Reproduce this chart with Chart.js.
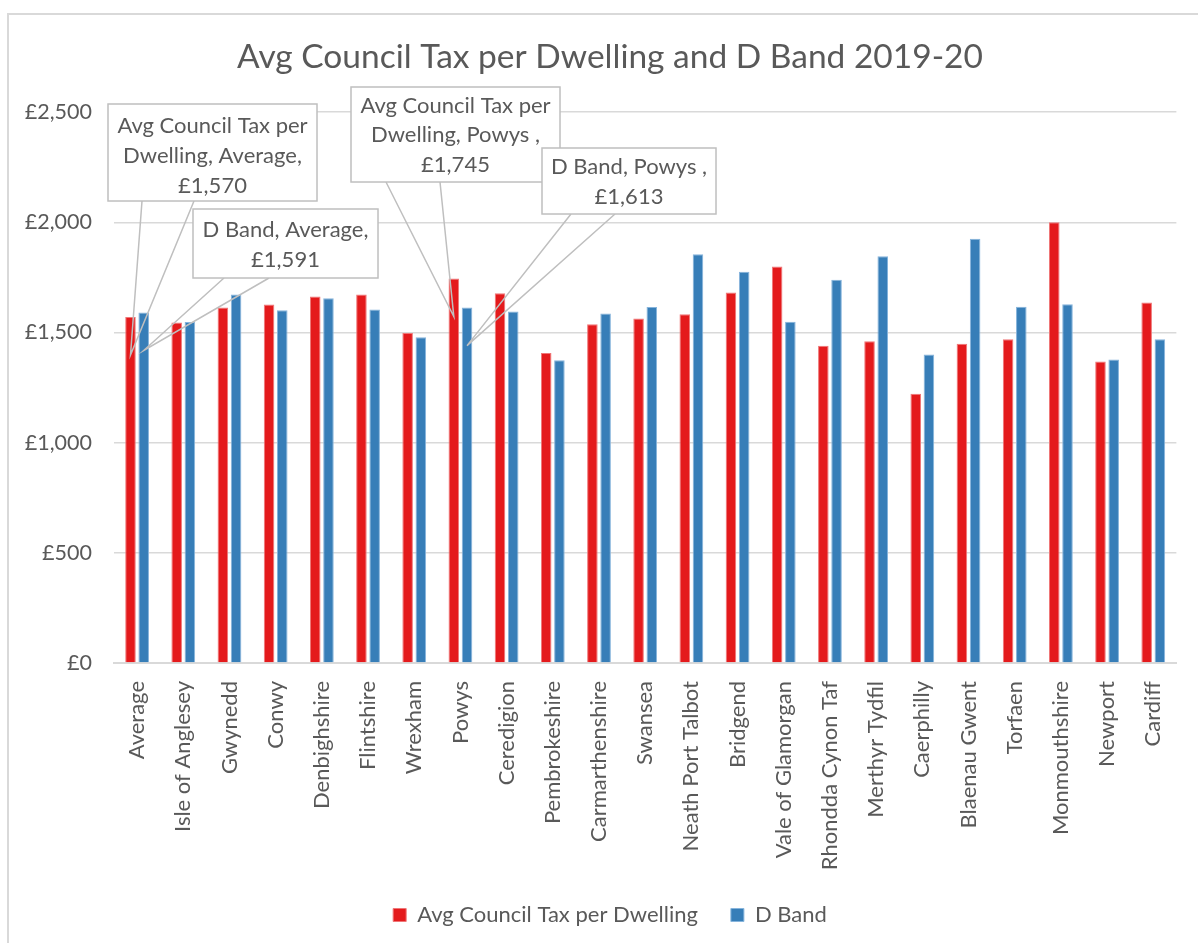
<!DOCTYPE html>
<html lang="en">
<head>
    <meta charset="UTF-8">
    <title>Avg Council Tax per Dwelling and D Band 2019-20</title>
    <script src="https://cdn.jsdelivr.net/npm/chart.js"></script>
    <style>
        html, body {
            margin: 0;
            padding: 0;
            background-color: #fff;
            overflow: hidden;
        }
        .marco {
            position: absolute;
            left: 7px;
            top: 13px;
            width: 1400px;
            height: 1100px;
            border-left: 2px solid #d9d9d9;
            border-top: 2px solid #d9d9d9;
        }
        .contenedor {
            position: absolute;
            left: 0;
            top: 0;
            width: 1198px;
            height: 943px;
        }
    </style>
</head>
<body>
<div class="marco"></div>
<div class="contenedor">
    <canvas id="graficaTax"></canvas>
</div>

<script>
    // Datos
    const councils = ['Average', 'Isle of Anglesey', 'Gwynedd', 'Conwy', 'Denbighshire', 'Flintshire',
        'Wrexham', 'Powys', 'Ceredigion', 'Pembrokeshire', 'Carmarthenshire', 'Swansea',
        'Neath Port Talbot', 'Bridgend', 'Vale of Glamorgan', 'Rhondda Cynon Taf', 'Merthyr Tydfil',
        'Caerphilly', 'Blaenau Gwent', 'Torfaen', 'Monmouthshire', 'Newport', 'Cardiff'];
    const avgTax = [1570, 1546, 1614, 1627, 1664, 1673, 1498, 1745, 1678, 1407, 1537, 1564,
        1583, 1682, 1800, 1440, 1460, 1222, 1449, 1469, 2000, 1368, 1636];
    const dBand = [1591, 1548, 1672, 1601, 1655, 1604, 1478, 1613, 1595, 1374, 1586, 1616,
        1855, 1776, 1549, 1740, 1846, 1400, 1926, 1617, 1628, 1378, 1469];
    const seriesNames = ['Avg Council Tax per Dwelling', 'D Band'];
    const yMax = 2500;
    const yStep = 500;

    const textColor = '#595959';
    const gridColor = '#d9d9d9';
    const fontFamily = 'Lato, "Open Sans", sans-serif';

    const money = v => '£' + v.toLocaleString('en-GB');

    // Etiquetas tipo "callout" (cajas en píxeles, la punta sale de la barra)
    const callouts = [
        { dataset: 0, index: 0, lines: ['Avg Council Tax per', 'Dwelling, Average,'], box: [108, 104, 317, 201], base: [142, 194], textY: [126, 156] },
        { dataset: 1, index: 0, lines: ['D Band, Average,'], box: [193, 209, 378, 278], base: [224, 269], textY: [230] },
        { dataset: 0, index: 7, lines: ['Avg Council Tax per', 'Dwelling, Powys ,'], box: [351, 87, 560, 182], base: [386, 440], textY: [106, 135] },
        { dataset: 1, index: 7, lines: ['D Band, Powys ,'], box: [542, 148, 716, 214], base: [571, 615], textY: [167] }
    ];

    const calloutPlugin = {
        id: 'callouts',
        afterLayout(chart) {
            // dejar que las etiquetas del eje Y se salgan hacia la izquierda sin recortarse
            chart.scales.y.left = 0;
        },
        afterDatasetsDraw(chart) {
            const ctx = chart.ctx;
            const yScale = chart.scales.y;
            ctx.save();
            ctx.font = '22px ' + fontFamily;
            ctx.textAlign = 'center';
            ctx.textBaseline = 'middle';
            callouts.forEach(c => {
                const bar = chart.getDatasetMeta(c.dataset).data[c.index];
                const value = chart.data.datasets[c.dataset].data[c.index];
                const tipX = bar.x;
                const tipY = yScale.getPixelForValue(value) + 38;
                const [x1, y1, x2, y2] = c.box;
                // punta
                ctx.strokeStyle = '#bfbfbf';
                ctx.lineWidth = 1.5;
                ctx.beginPath();
                ctx.moveTo(c.base[0], y2);
                ctx.lineTo(tipX, tipY);
                ctx.lineTo(c.base[1], y2);
                ctx.stroke();
                // caja
                ctx.fillStyle = '#fff';
                ctx.fillRect(x1, y1, x2 - x1, y2 - y1);
                ctx.strokeRect(x1, y1, x2 - x1, y2 - y1);
                // texto
                ctx.fillStyle = textColor;
                const cx = (x1 + x2) / 2;
                c.lines.forEach((t, i) => ctx.fillText(t, cx, c.textY[i]));
                const last = c.textY[c.textY.length - 1] + 29.5;
                ctx.fillText(money(value), cx, last);
            });
            ctx.restore();
        }
    };

    const ctx = document.getElementById('graficaTax').getContext('2d');
    const grafica = new Chart(ctx, {
        type: 'bar',
        data: {
            labels: councils,
            datasets: [{
                label: seriesNames[0],
                data: avgTax,
                backgroundColor: '#e41a1c',
                borderColor: '#ef7677',
                borderWidth: 1
            }, {
                label: seriesNames[1],
                data: dBand,
                backgroundColor: '#377eb8',
                borderColor: '#86b4dc',
                borderWidth: 1
            }]
        },
        options: {
            responsive: true,
            maintainAspectRatio: false,
            animation: false,
            categoryPercentage: 0.572,
            barPercentage: 0.8,
            layout: { padding: { left: 37, right: 15, top: 0, bottom: 7 } },
            plugins: {
                title: {
                    display: true,
                    text: 'Avg Council Tax per Dwelling and D Band 2019-20',
                    color: textColor,
                    font: { family: fontFamily, size: 33.5, weight: 'normal' },
                    padding: { top: 37, bottom: 35 }
                },
                legend: {
                    position: 'bottom',
                    labels: {
                        color: textColor,
                        font: { family: fontFamily, size: 22 },
                        boxWidth: 13,
                        boxHeight: 13,
                        padding: 33
                    }
                },
                tooltip: { enabled: false }
            },
            scales: {
                x: {
                    grid: { display: false, drawTicks: false },
                    border: { color: gridColor, width: 2 },
                    ticks: {
                        color: textColor,
                        font: { family: fontFamily, size: 22 },
                        maxRotation: 90,
                        minRotation: 90,
                        autoSkip: false,
                        padding: 18
                    },
                    afterFit: scale => { scale.height = 208; }
                },
                y: {
                    min: 0,
                    max: yMax,
                    grid: { color: gridColor, lineWidth: 1.5, drawTicks: false },
                    border: { display: false },
                    ticks: {
                        stepSize: yStep,
                        color: textColor,
                        font: { family: fontFamily, size: 21.5 },
                        padding: 22,
                        callback: v => money(v)
                    },
                    afterFit: scale => { scale.width = 77; }
                }
            }
        },
        plugins: [calloutPlugin]
    });
</script>
</body>
</html>
